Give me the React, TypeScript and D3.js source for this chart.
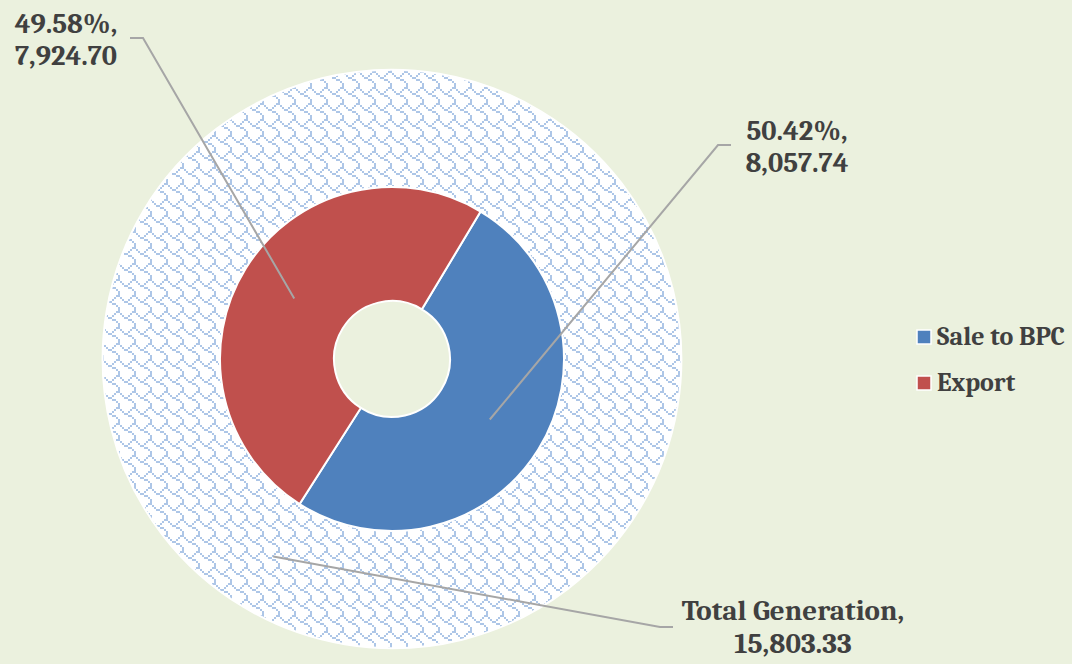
import React, { useRef, useEffect } from 'react';
import * as d3 from 'd3';

const categories = ['Sale to BPC', 'Export'];
const values = [8057.74, 7924.7];
const colors = ['#4f81bd', '#c0504d'];
const totalLabel = 'Total Generation';
const totalValue = 15803.33;

// shingle hatch bitmap, 8x8, leftmost pixel = 0x80
const shingleBits = [0x03, 0x84, 0x48, 0x30, 0x0c, 0x02, 0x01, 0x01];

const App = () => {
  const svgRef = useRef<SVGSVGElement>(null);

  useEffect(() => {
    const svg = d3.select(svgRef.current);
    svg.selectAll('*').remove();

    const width = 1072;
    const height = 664;
    const cx = 392;
    const cy = 359;
    const holeR = 58;
    const innerR = 172;
    const outerR = 289;
    const startA = (31 * Math.PI) / 180;
    const font = "Cambria, 'Liberation Serif', serif";
    const textColor = '#404040';
    const lineColor = '#a6a6a6';

    svg.append('rect').attr('width', width).attr('height', height).attr('fill', '#ebf1de');

    // pattern for the outer ring
    const pat = svg.append('defs').append('pattern')
      .attr('id', 'shingle')
      .attr('patternUnits', 'userSpaceOnUse')
      .attr('width', 16).attr('height', 16);
    pat.append('rect').attr('width', 16).attr('height', 16).attr('fill', '#ffffff');
    shingleBits.forEach((row, y) => {
      for (let x = 0; x < 8; x++) {
        if (row & (0x80 >> x)) {
          pat.append('rect')
            .attr('x', x * 2).attr('y', y * 2)
            .attr('width', 2).attr('height', 2)
            .attr('fill', '#8eb0de')
            .attr('opacity', 0.72);
        }
      }
    });

    const g = svg.append('g').attr('transform', `translate(${cx},${cy})`);

    // outer ring: total generation
    const outerArc = d3.arc<any>().innerRadius(innerR).outerRadius(outerR);
    const outerPie = d3.pie<number>().sort(null).startAngle(startA).endAngle(startA + 2 * Math.PI)([totalValue]);
    g.selectAll('path.outer')
      .data(outerPie)
      .enter().append('path')
      .attr('class', 'outer')
      .attr('d', outerArc)
      .attr('fill', 'url(#shingle)')
      .attr('stroke', '#ffffff')
      .attr('stroke-width', 2);

    // inner ring: split
    const innerArc = d3.arc<any>().innerRadius(holeR).outerRadius(innerR);
    const pie = d3.pie<number>().sort(null).startAngle(startA).endAngle(startA + 2 * Math.PI);
    const arcs = pie(values);
    g.selectAll('path.inner')
      .data(arcs)
      .enter().append('path')
      .attr('class', 'inner')
      .attr('d', innerArc)
      .attr('fill', (d, i) => colors[i])
      .attr('stroke', '#ffffff')
      .attr('stroke-width', 2);

    const sum = d3.sum(values);
    const fmt = d3.format(',.2f');

    // label boxes (centre x, first baseline)
    const labelPos = [
      { x: 797, y: 140, elbow: [[718, 145], [731, 145]] },
      { x: 66, y: 33, elbow: [[143, 38], [130, 38]] },
    ];

    arcs.forEach((a, i) => {
      const [px, py] = innerArc.centroid(a);
      const p = labelPos[i];
      g.append('polyline')
        .attr('points', [[px, py], ...p.elbow.map(([x, y]) => [x - cx, y - cy])].map((q) => q.join(',')).join(' '))
        .attr('fill', 'none')
        .attr('stroke', lineColor)
        .attr('stroke-width', 2);
      const t = svg.append('text')
        .attr('text-anchor', 'middle')
        .attr('font-family', font)
        .attr('font-weight', 'bold')
        .attr('font-size', 28.5)
        .attr('fill', textColor);
      t.append('tspan').attr('x', p.x).attr('y', p.y).text(`${((values[i] / sum) * 100).toFixed(2)}%,`);
      t.append('tspan').attr('x', p.x).attr('y', p.y + 32).text(fmt(values[i]));
    });

    // total label
    const [tx, ty] = outerArc.centroid(outerPie[0]);
    g.append('polyline')
      .attr('points', [[tx, ty], [660 - cx, 627 - cy], [673 - cx, 627 - cy]].map((q) => q.join(',')).join(' '))
      .attr('fill', 'none')
      .attr('stroke', lineColor)
      .attr('stroke-width', 2);
    const tt = svg.append('text')
      .attr('text-anchor', 'middle')
      .attr('font-family', font)
      .attr('font-weight', 'bold')
      .attr('font-size', 29)
      .attr('fill', textColor);
    tt.append('tspan').attr('x', 793).attr('y', 620).text(`${totalLabel},`);
    tt.append('tspan').attr('x', 793).attr('y', 653).text(fmt(totalValue));

    // legend
    const legend = svg.append('g').attr('transform', 'translate(917,330)');
    categories.forEach((c, i) => {
      const row = legend.append('g').attr('transform', `translate(0,${i * 46})`);
      row.append('rect')
        .attr('width', 14).attr('height', 14)
        .attr('fill', colors[i])
        .attr('stroke', '#ffffff')
        .attr('stroke-width', 1.5);
      row.append('text')
        .attr('x', 20).attr('y', 15)
        .attr('font-family', font)
        .attr('font-weight', 'bold')
        .attr('font-size', 26)
        .attr('fill', textColor)
        .text(c);
    });
  }, []);

  return (
    <div style={{ position: 'fixed', left: 0, top: 0 }}>
      <svg ref={svgRef} width={1072} height={664} style={{ display: 'block' }} />
    </div>
  );
};

export default App;
